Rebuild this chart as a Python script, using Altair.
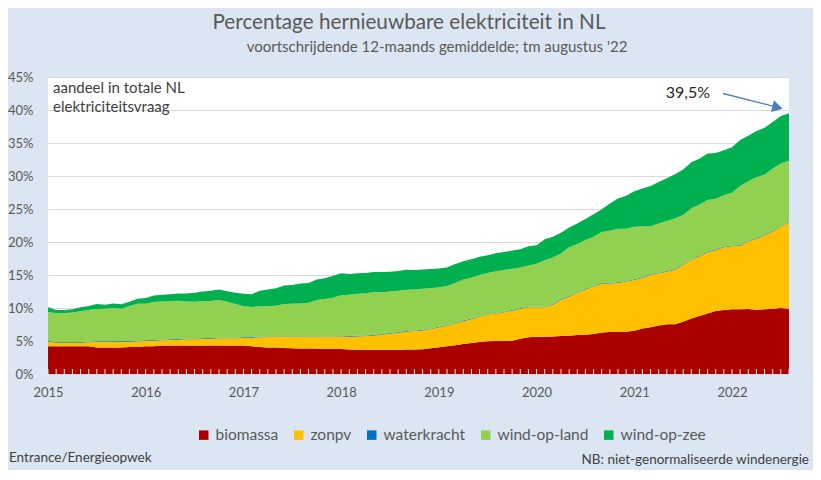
import altair as alt
import pandas as pd

# ---------------- data (percent of total NL electricity demand, monthly, Jan 2015 .. Aug 2022)
series = ["biomassa", "zonpv", "waterkracht", "wind-op-land", "wind-op-zee"]
colors = ["#AA0000", "#FFC000", "#0070C0", "#92D050", "#00B050"]
year_labels = ["2015", "2016", "2017", "2018", "2019", "2020", "2021", "2022"]
start_year = 2015

biomassa = [4.2, 4.2, 4.2, 4.2, 4.2, 4.2, 4.0, 4.0, 4.0, 4.0, 4.1, 4.1,
            4.2, 4.2, 4.3, 4.3, 4.3, 4.3, 4.3, 4.3, 4.3, 4.3, 4.3, 4.3,
            4.3, 4.2, 4.1, 4.0, 4.0, 3.95, 3.9, 3.85, 3.85, 3.85, 3.8, 3.8,
            3.8, 3.7, 3.65, 3.65, 3.65, 3.65, 3.65, 3.65, 3.7, 3.7, 3.75, 3.9,
            4.05, 4.2, 4.35, 4.55, 4.7, 4.85, 4.95, 5.0, 5.05, 5.05, 5.35, 5.55,
            5.65, 5.65, 5.7, 5.75, 5.8, 5.9, 5.95, 6.05, 6.3, 6.35, 6.35, 6.4,
            6.55, 6.9, 7.1, 7.35, 7.55, 7.55, 7.9, 8.4, 8.8, 9.15, 9.55, 9.7,
            9.8, 9.8, 9.85, 9.75, 9.8, 9.9, 10.0, 9.9]
zonpv = [0.7, 0.55, 0.5, 0.5, 0.55, 0.6, 0.85, 0.85, 0.85, 0.9, 0.8, 0.85,
         0.8, 0.85, 0.8, 0.85, 0.9, 0.95, 0.95, 1.0, 1.05, 1.1, 1.1, 1.1,
         1.15, 1.3, 1.45, 1.6, 1.6, 1.65, 1.7, 1.75, 1.75, 1.75, 1.8, 1.8,
         1.8, 1.95, 2.05, 2.1, 2.15, 2.3, 2.45, 2.6, 2.7, 2.8, 2.85, 2.9,
         3.0, 3.1, 3.25, 3.45, 3.6, 3.85, 4.05, 4.15, 4.3, 4.55, 4.5, 4.55,
         4.45, 4.45, 4.8, 5.5, 5.95, 6.4, 6.85, 7.2, 7.35, 7.35, 7.45, 7.6,
         7.7, 7.65, 7.95, 7.9, 7.95, 8.25, 8.65, 8.9, 9.0, 9.3, 9.2, 9.5,
         9.55, 9.65, 10.25, 10.7, 11.2, 11.7, 12.3, 13.0]
waterkracht = [0.1] * 92
wind_op_land = [4.4, 4.35, 4.4, 4.5, 4.65, 4.8, 4.9, 4.95, 5.05, 4.9, 5.3, 5.6,
                5.55, 5.75, 5.8, 5.8, 5.8, 5.65, 5.6, 5.65, 5.6, 5.7, 5.45, 5.1,
                4.7, 4.55, 4.6, 4.6, 4.65, 4.9, 4.95, 5.0, 5.1, 5.5, 5.65, 5.85,
                6.25, 6.25, 6.35, 6.4, 6.5, 6.35, 6.3, 6.25, 6.25, 6.2, 6.2, 6.1,
                6.0, 5.95, 6.1, 6.2, 6.2, 6.2, 6.2, 6.3, 6.3, 6.25, 6.2, 6.25,
                6.5, 7.05, 7.05, 6.9, 7.35, 7.3, 7.4, 7.45, 7.75, 7.9, 8.1, 7.9,
                7.95, 7.7, 7.25, 7.45, 7.6, 7.7, 7.45, 7.7, 7.75, 7.8, 7.7, 7.8,
                8.0, 8.95, 9.0, 9.25, 9.1, 9.45, 9.5, 9.3]
wind_op_zee = [0.7, 0.5, 0.5, 0.5, 0.6, 0.6, 0.75, 0.6, 0.7, 0.65, 0.65, 0.75,
               0.85, 1.0, 1.0, 1.05, 1.1, 1.2, 1.35, 1.45, 1.55, 1.6, 1.6, 1.7,
               1.9, 1.95, 2.35, 2.5, 2.65, 2.8, 2.85, 3.0, 3.0, 3.1, 3.15, 3.35,
               3.3, 3.15, 3.1, 3.05, 3.05, 3.05, 3.0, 3.0, 3.05, 2.95, 2.95, 2.9,
               2.85, 2.8, 2.85, 2.8, 2.8, 2.75, 2.7, 2.75, 2.75, 2.75, 2.75, 2.9,
               2.8, 3.15, 3.15, 3.15, 3.0, 3.1, 3.2, 3.4, 3.45, 4.15, 4.6, 5.0,
               5.4, 5.75, 6.1, 6.3, 6.45, 6.65, 6.9, 7.0, 6.95, 7.05, 6.95, 6.8,
               6.9, 6.95, 6.9, 7.0, 7.1, 7.05, 7.2, 7.2]
y_ticks = [0, 5, 10, 15, 20, 25, 30, 35, 40, 45]
last_label = "39,5%"

# ---------------- layout
PW, PH = 741, 297
FONT = "Lato"
GREY = "#595959"
DARK = "#404040"
BG = "#DCE6F2"

values_by_series = [biomassa, zonpv, waterkracht, wind_op_land, wind_op_zee]
rows = []
for k, (name, vals) in enumerate(zip(series, values_by_series)):
    for m, v in enumerate(vals):
        rows.append({"m": m, "v": v, "s": name, "k": k})
df = pd.DataFrame(rows)
n_months = len(biomassa)
year_ticks = [12 * i for i in range(len(year_labels))]

xscale = alt.Scale(domain=[0, n_months - 1], nice=False, zero=False)
yscale = alt.Scale(domain=[0, 45], nice=False)

xaxis = alt.Axis(values=year_ticks, labelExpr=f"toString({start_year} + datum.value/12)",
                 title=None, grid=False, domain=False, ticks=False,
                 labelFlush=False, labelOverlap=False,
                 labelFont=FONT, labelFontSize=13, labelColor=GREY, labelPadding=12)
yaxis = alt.Axis(values=y_ticks, labelExpr="datum.value + '%'", title=None,
                 grid=True, gridColor="#D9D9D9", gridWidth=1, domain=False, ticks=False,
                 labelOverlap=False, labelFlush=False,
                 labelFont=FONT, labelFontSize=13, labelColor=GREY, labelPadding=15)

area = alt.Chart(df).mark_area(interpolate="linear").encode(
    x=alt.X("m:Q", scale=xscale, axis=xaxis),
    y=alt.Y("v:Q", stack="zero", scale=yscale, axis=yaxis),
    color=alt.Color("s:N", scale=alt.Scale(domain=series, range=colors), sort=series,
                    legend=alt.Legend(title=None, orient="none", direction="horizontal",
                                      legendX=148, legendY=350, symbolType="square",
                                      symbolSize=90, symbolStrokeWidth=0, labelFont=FONT,
                                      labelFontSize=15.5, labelColor=GREY, columnPadding=12,
                                      labelOffset=4)),
    order=alt.Order("k:Q", sort="ascending"),
)

tick_df = pd.DataFrame({"m": list(range(n_months))})
ticks = alt.Chart(tick_df).mark_rule(color="#E6E6E6", strokeWidth=1).encode(
    x=alt.X("m:Q", scale=xscale, axis=xaxis), y=alt.value(PH - 5), y2=alt.value(PH)
)

# arrow annotation (data coordinates)
arrow_df = pd.DataFrame({"x": [82.9], "y": [42.5], "x2": [89.6], "y2": [40.4]})
arrow = alt.Chart(arrow_df).mark_rule(color="#4A7EBB", strokeWidth=1.3).encode(
    x=alt.X("x:Q", scale=xscale, axis=xaxis), y=alt.Y("y:Q", scale=yscale, axis=yaxis),
    x2="x2:Q", y2="y2:Q"
)
head = alt.Chart(arrow_df).mark_point(shape="triangle-right", filled=True, color="#4A7EBB",
                                      opacity=1, size=150, angle=14).encode(
    x=alt.X("x2:Q", scale=xscale, axis=xaxis), y=alt.Y("y2:Q", scale=yscale, axis=yaxis)
)


def txt(text, x, y, size, color, align="left", baseline="alphabetic"):
    return alt.Chart(pd.DataFrame({"t": [text]})).mark_text(
        font=FONT, fontSize=size, color=color, align=align, baseline=baseline
    ).encode(text="t:N", x=alt.value(x), y=alt.value(y))


texts = [
    txt("Percentage hernieuwbare elektriciteit in NL", 361, -48, 20.7, GREY, "center"),
    txt("voortschrijdende 12-maands gemiddelde; tm augustus '22", 389, -25, 15, GREY, "center"),
    txt("aandeel in totale NL", 5, 16, 15, DARK),
    txt("elektriciteitsvraag", 5, 35, 15, DARK),
    txt(last_label, 662, 21, 16, "#262626", "right"),
    txt("Entrance/Energieopwek", -39, 385, 13.5, DARK),
    txt("NB: niet-genormaliseerde windenergie", 761, 387, 13.5, DARK, "right"),
]

chart = alt.layer(area, ticks, arrow, head, *texts).properties(
    width=PW, height=PH,
    background=BG,
    autosize=alt.AutoSizeParams(type="none"),
    padding={"left": 40, "top": 69, "right": 24, "bottom": 96},
).configure_view(fill="white", strokeWidth=0)

chart.save("out.html", embed_options={"renderer": "svg", "actions": False})
